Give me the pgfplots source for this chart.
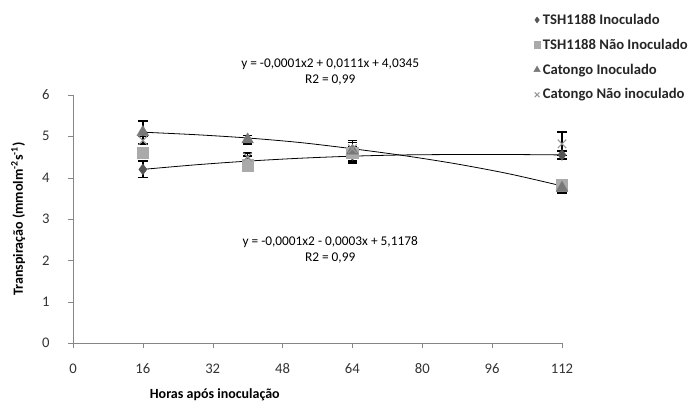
\documentclass[border=0pt]{standalone}
\usepackage{fontspec}
\setmainfont{Carlito}
\usepackage{pgfplots}
\pgfplotsset{compat=1.18}

\definecolor{axisgray}{RGB}{134,134,134}
\definecolor{dkgray}{RGB}{85,85,85}
\definecolor{midgray}{RGB}{120,120,120}
\definecolor{ltgray}{RGB}{170,170,170}
\definecolor{xgray}{RGB}{150,150,150}

\begin{document}
\begin{tikzpicture}
% page frame, 1 px = 0.75 pt
\useasboundingbox (-54.75pt,-49.5pt) rectangle (468pt,257.25pt);
\begin{axis}[
  scale only axis,
  width=366.75pt, height=186pt,
  xmin=0, xmax=112, ymin=0, ymax=6,
  xtick={0,16,...,112}, ytick={0,1,...,6},
  axis x line*=bottom, axis y line*=left,
  axis line style={axisgray, -},
  tick style={axisgray},
  major tick length=4pt,
  tick align=outside,
  tick label style={font=\fontsize{11}{13}\selectfont, text=black!80},
  xticklabel style={yshift=-8pt},
  yticklabel style={xshift=-10pt},
  /pgf/number format/assume math mode=true,
  xlabel={\textbf{Horas após inoculação}},
  xlabel style={at={(axis description cs:0.29,-0.21)}, anchor=center, font=\fontsize{10.5}{12}\selectfont},
  ylabel={\textbf{Transpiração (mmolm\textsuperscript{-2}s\textsuperscript{-1})}},
  ylabel style={at={(axis description cs:-0.112,0.5)}, anchor=center, font=\fontsize{10.5}{12}\selectfont},
  clip=false,
  legend style={at={(rel axis cs:0.942,1.35)}, anchor=north west, draw=none,
    font=\bfseries\fontsize{11}{13}\selectfont, row sep=5.5pt, text=black!85,
    legend cell align=left, fill=none, inner xsep=0pt,
    nodes={inner xsep=2pt}},
  legend image code/.code={\draw[#1,/tikz/every mark/.append style={scale=0.55}] plot coordinates {(0.1cm,0cm)};},
]
% TSH1188 Inoculado
\addplot[only marks, mark=diamond*, mark size=4pt, dkgray, mark options={fill=dkgray, draw=dkgray},
  error bars/.cd, y dir=both, y explicit,
  error bar style={black, line width=1.1pt},
  error mark options={black, line width=1.1pt, mark size=3.5pt, rotate=90}]
  coordinates {(16,4.20) +- (0,0.20) (40,4.40) +- (0,0.12) (64,4.55) +- (0,0.15) (112,4.55) +- (0,0.10)};
\addlegendentry{TSH1188 Inoculado}
% TSH1188 Nao Inoculado
\addplot[only marks, mark=square*, mark size=4.3pt, ltgray, mark options={fill=ltgray, draw=ltgray},
  error bars/.cd, y dir=both, y explicit,
  error bar style={black, line width=1.1pt},
  error mark options={black, line width=1.1pt, mark size=3.5pt, rotate=90}]
  coordinates {(16,4.60) +- (0,0.10) (40,4.30) +- (0,0.12) (64,4.60) +- (0,0.25) (112,3.82) +- (0,0.10)};
\addlegendentry{TSH1188 Não Inoculado}
% Catongo Inoculado
\addplot[only marks, mark=triangle*, mark size=5pt, midgray, mark options={fill=midgray, draw=midgray},
  error bars/.cd, y dir=both, y explicit,
  error bar style={black, line width=1.1pt},
  error mark options={black, line width=1.1pt, mark size=3.5pt, rotate=90}]
  coordinates {(16,5.10) +- (0,0.27) (40,4.92) +- (0,0.10) (64,4.65) +- (0,0.10) (112,3.75) +- (0,0.12)};
\addlegendentry{Catongo Inoculado}
% Catongo Nao inoculado
\addplot[only marks, mark=x, mark size=4.5pt, xgray, mark options={draw=xgray, line width=0.8pt},
  error bars/.cd, y dir=both, y explicit,
  error bar style={black, line width=1.1pt},
  error mark options={black, line width=1.1pt, mark size=3.5pt, rotate=90}]
  coordinates {(16,4.90) +- (0,0.10) (40,4.50) +- (0,0.10) (64,4.70) +- (0,0.20) (112,4.82) +- (0,0.28)};
\addlegendentry{Catongo Não inoculado}

% trendlines
\addplot[black, line width=0.6pt, smooth, forget plot] coordinates {
  (16,4.20) (28,4.31) (40,4.40) (52,4.47) (64,4.52) (76,4.55) (88,4.56) (100,4.56) (112,4.55)};
\addplot[black, line width=0.6pt, smooth, forget plot] coordinates {
  (16,5.10) (28,5.04) (40,4.96) (52,4.85) (64,4.70) (76,4.53) (88,4.33) (100,4.09) (112,3.80)};

\node[align=center, font=\fontsize{10}{12}\selectfont, inner sep=0pt] at (axis cs:58.9,6.56)
  {y = -0,0001x2 + 0,0111x + 4,0345\\R2 = 0,99};
\node[align=center, font=\fontsize{10}{12}\selectfont, inner sep=0pt] at (axis cs:58.9,2.25)
  {y = -0,0001x2 - 0,0003x + 5,1178\\R2 = 0,99};
\end{axis}
\end{tikzpicture}
\end{document}
